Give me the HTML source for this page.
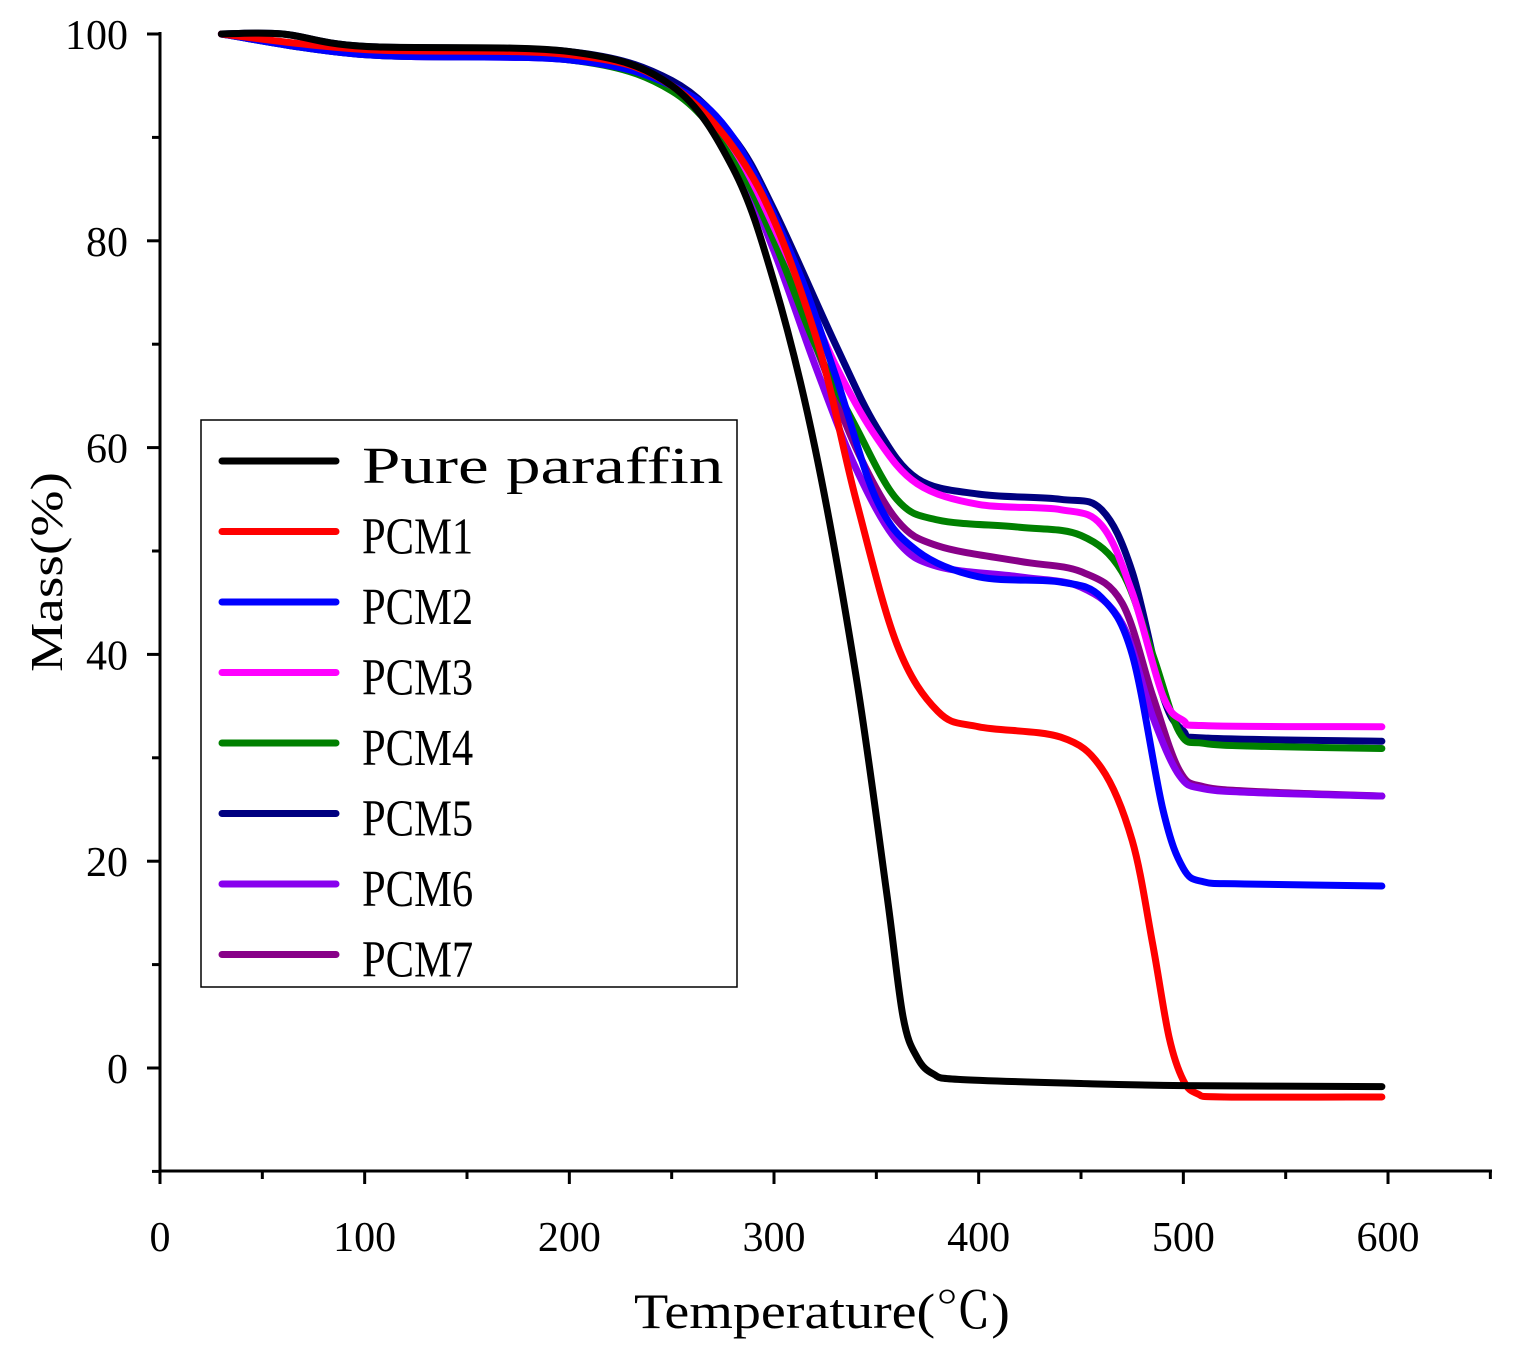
<!DOCTYPE html>
<html><head><meta charset="utf-8"><style>
html,body{margin:0;padding:0;background:#fff;}
svg text{font-family:"Liberation Serif","Noto Serif CJK SC",serif;fill:#000;}
</style></head><body>
<svg id="s" width="1515" height="1356" xmlns="http://www.w3.org/2000/svg">
<rect width="1515" height="1356" fill="#fff"/>
<g id="axes" stroke="#000" stroke-width="3" fill="none">
<line x1="160" y1="32" x2="160" y2="1172"/>
<line x1="158.5" y1="1171" x2="1492" y2="1171"/>
</g>
<g id="ticks" stroke="#000" stroke-width="3"></g>
<g id="labels" font-size="42"></g>
<text x="822" y="1328" font-size="50" text-anchor="middle" textLength="376" lengthAdjust="spacingAndGlyphs">Temperature(℃)</text>
<text transform="translate(62,572) rotate(-90)" font-size="46" text-anchor="middle" textLength="200" lengthAdjust="spacingAndGlyphs">Mass(%)</text>
<g id="curves" fill="none" stroke-width="7" stroke-linecap="round" stroke-linejoin="round"></g>
<rect x="201" y="420" width="536" height="567" fill="#fff" stroke="#000" stroke-width="1.5"/>
<g id="legend"></g>
</svg>
<script>
var NS="http://www.w3.org/2000/svg";
function X(t){return 160+t*2.0467;}
function Y(m){return 1068-m*10.34;}
function el(p,n,a,txt){var e=document.createElementNS(NS,n);for(var k in a)e.setAttribute(k,a[k]);if(txt!==undefined)e.textContent=txt;document.getElementById(p).appendChild(e);}
for(var t=0;t<=650;t+=50){var maj=t%100==0;el("ticks","line",{x1:X(t),y1:1171,x2:X(t),y2:1171+(maj?13:8)});if(maj&&t<=600){var s=String(t);el("labels","text",{x:X(t)-s.length*10.5,y:1251,textLength:s.length*21,lengthAdjust:"spacingAndGlyphs"},s);}}
for(var m=-10;m<=100;m+=10){var maj=m%20==0;el("ticks","line",{x1:160-(maj?13:8),y1:Y(m),x2:160,y2:Y(m)});if(maj){var s=String(m);el("labels","text",{x:128-s.length*21,y:Y(m)+15,textLength:s.length*21,lengthAdjust:"spacingAndGlyphs"},s);}}
var S=[
["#000000","Pure paraffin",[[30,100],[60,100],[100,98.8],[200,98.3],[250,95],[280,87],[300,76],[320,60],[340,38],[355,17],[363,5],[370,1],[378,-0.6],[390,-1.1],[450,-1.5],[500,-1.7],[597,-1.8]]],
["#ff0000","PCM1",[[30,100],[100,98.5],[200,98],[250,95],[290,86],[320,71],[340,55],[360,41],[380,34.5],[400,33],[440,32],[460,29],[475,22],[485,12],[493,3],[500,-1.2],[507,-2.5],[520,-2.8],[597,-2.8]]],
["#0000ff","PCM2",[[30,100],[100,98],[200,97.5],[250,95],[280,90],[310,78],[330,67],[350,55],[370,50],[400,47.5],[440,47],[460,45.5],[475,40],[490,25],[500,19.3],[510,18],[530,17.8],[597,17.6]]],
["#ff00ff","PCM3",[[30,100],[100,98.2],[200,97.8],[250,95],[280,89],[310,77],[330,68],[350,61],[370,56.5],[400,54.5],[440,54],[460,52.5],[475,46],[490,36],[500,33.6],[512,33.1],[597,33]]],
["#008000","PCM4",[[30,100],[100,98],[200,97.5],[250,94.5],[280,88],[300,80],[320,70],[340,62],[360,55],[380,53],[420,52.3],[450,51.5],[470,48],[485,40],[498,32.5],[510,31.4],[540,31.1],[597,30.9]]],
["#000080","PCM5",[[30,100],[60,100],[100,98.8],[200,98.3],[250,95.5],[280,90],[300,83],[330,70],[350,62],[370,57],[400,55.5],[440,55],[460,54],[475,48],[490,36],[500,32.6],[512,31.9],[597,31.6]]],
["#8800ee","PCM6",[[30,100],[100,98],[200,97.5],[250,95],[280,88],[300,79],[320,68],[340,58],[360,51],[380,48.5],[420,47.5],[450,46.5],[470,43],[485,34],[498,28.3],[510,27],[540,26.6],[597,26.3]]],
["#880088","PCM7",[[30,100],[100,98.3],[200,97.8],[250,95],[280,89],[300,80],[320,70],[340,60],[360,53],[380,50.5],[420,49],[450,48],[470,45],[485,36],[498,28.8],[510,27.2],[540,26.7],[597,26.3]]]
];
function path(pts){var p=pts.map(function(a){return [X(a[0]),Y(a[1])];});var d="M"+p[0][0]+","+p[0][1];
for(var i=0;i<p.length-1;i++){var p0=p[i-1]||p[i],p1=p[i],p2=p[i+1],p3=p[i+2]||p2;
d+=" C"+(p1[0]+(p2[0]-p0[0])/6)+","+(p1[1]+(p2[1]-p0[1])/6)+" "+(p2[0]-(p3[0]-p1[0])/6)+","+(p2[1]-(p3[1]-p1[1])/6)+" "+p2[0]+","+p2[1];}return d;}
for(var i=S.length-1;i>=0;i--)el("curves","path",{d:path(S[i][2]),stroke:S[i][0]});
S.forEach(function(s,i){var y=461+i*70.5;el("legend","line",{x1:222,y1:y,x2:336,y2:y,stroke:s[0],"stroke-width":7,"stroke-linecap":"round"});
el("legend","text",{x:362,y:y+22,"font-size":52,textLength:s[1].length*27.8,lengthAdjust:"spacingAndGlyphs"},s[1]);});
</script>
</body></html>
